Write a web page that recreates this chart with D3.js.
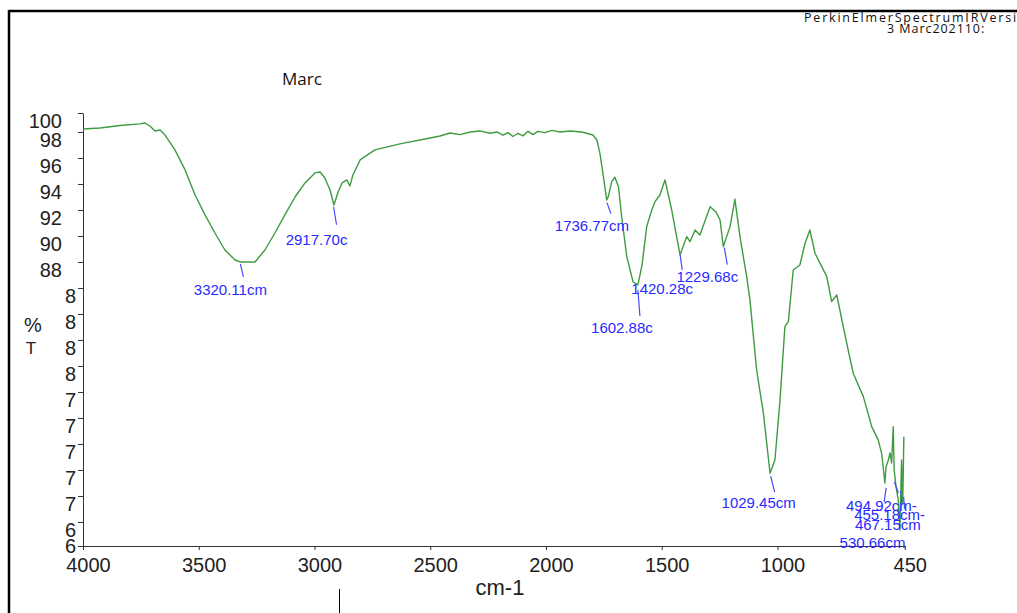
<!DOCTYPE html>
<meta charset="utf-8">
<style>
  html, body { margin: 0; padding: 0; background: #fff; }
  svg { display: block; font-family: "Liberation Sans", Arial, sans-serif; }
  .axis path, .axis line { stroke: #333; }
  .axis text { fill: #222; }
  .spectrum { fill: none; stroke: #3f9b3f; stroke-width: 1.4; stroke-linejoin: round; }
  .peaks text { fill: #2a2aff; font-size: 15px; }
  .peaks line { stroke: #4848ff; stroke-width: 1.2; }
  .frame { stroke: #000; stroke-width: 2.5; }
  .header { font-family: "Open Sans", sans-serif; fill: #111; }
</style>
<body>
<script src="https://cdnjs.cloudflare.com/ajax/libs/d3/7.8.5/d3.min.js"></script>
<script>
// spectrum (cm-1, %T)
var wavenumber = [4000, 3927, 3840, 3754, 3732, 3711, 3689, 3667, 3646, 3603,
  3559, 3516, 3473, 3430, 3387, 3343, 3322, 3257, 3214, 3171,
  3128, 3084, 3041, 2998, 2976, 2955, 2933, 2916, 2898, 2881,
  2860, 2847, 2834, 2803, 2739, 2631, 2501, 2458, 2415, 2372,
  2328, 2285, 2242, 2212, 2186, 2164, 2143, 2121, 2099, 2078,
  2056, 2035, 2004, 1974, 1940, 1896, 1845, 1797, 1780, 1767,
  1752, 1738, 1731, 1716, 1702, 1687, 1673, 1651, 1624, 1603,
  1585, 1565, 1543, 1529, 1508, 1486, 1457, 1421, 1392, 1378,
  1356, 1335, 1291, 1266, 1248, 1234, 1205, 1184, 1162, 1133,
  1119, 1090, 1061, 1032, 1011, 989, 968, 953, 932, 903,
  881, 860, 838, 787, 766, 744, 701, 673, 629, 593,
  565, 550, 536, 531, 521, 514, 507, 500, 496, 488,
  478, 471, 464, 459, 454];
var transmittance = [98.23, 98.31, 98.5, 98.62, 98.69, 98.46, 98.08, 98.15, 97.77, 96.62,
  95.08, 93.15, 91.62, 90.23, 88.92, 88.15, 88.0, 88.0, 88.92, 90.23,
  91.62, 93.0, 94.08, 94.85, 94.92, 94.46, 93.54, 92.38, 93.38, 94.08,
  94.31, 93.85, 94.69, 95.85, 96.62, 97.08, 97.54, 97.69, 97.92, 97.8,
  98.0, 98.08, 97.9, 98.0, 97.75, 97.95, 97.65, 97.9, 97.7, 98.05,
  97.8, 98.05, 97.95, 98.12, 98.0, 98.08, 98.0, 97.77, 97.38, 96.38,
  94.56, 92.77, 93.02, 94.18, 94.52, 93.79, 91.48, 88.41, 86.48, 86.23,
  87.77, 90.72, 92.0, 92.64, 93.15, 94.31, 92.0, 88.54, 89.95, 89.56,
  90.46, 90.08, 92.25, 91.85, 91.23, 89.18, 90.72, 92.82, 89.95, 86.87,
  85.08, 79.69, 76.38, 71.75, 72.77, 77.38, 83.02, 83.41, 87.38, 87.77,
  89.44, 90.46, 88.67, 86.87, 84.95, 85.46, 81.75, 79.44, 77.64, 75.33,
  74.31, 73.28, 71.0, 72.25, 72.77, 73.31, 72.54, 75.33, 72.0, 70.72,
  69.69, 67.38, 72.77, 69.46, 74.56];

var xTicks = [4000, 3500, 3000, 2500, 2000, 1500, 1000, 450];
var yTicks = [99.46, 98, 96, 94, 92, 90, 88, 86, 84, 82, 80, 78, 76, 74, 72, 70, 68, 66.15];
var yTickLabels = ["100", "98", "96", "94", "92", "90", "88", "8", "8", "8", "8",
  "7", "7", "7", "7", "7", "6", "6"];

var peakWn = [3320.11, 2917.70, 1736.77, 1602.88, 1420.28, 1229.68, 1029.45, 494.92, 455.18, 467.15, 530.66];
var peakT = [88.0, 92.4, 92.64, 86.23, 88.54, 89.18, 71.75, 71.23, 70.08, 70.54, 70.77];
var peakText = ["3320.11cm", "2917.70c", "1736.77cm", "1602.88c", "1420.28c", "1229.68c",
  "1029.45cm", "494.92cm-", "455.18cm-", "467.15cm", "530.66cm"];

// label placement: [gap, leader length, slant, text dx, text dy]
var peakLayout = [[2, 13, 3, -10, 33], [2, 18, 3, -17, 40], [1, 11, 4, -15, 29.5],
  [5, 26, 2, -16, 48], [0, 15, 2, -18, 39], [1, 17, 3, -17, 35], [3, 16, 4, -12, 35],
  [2, 11, 4, -13, 31.5], [2, 12, 1, -14, 25], [2, 14, 1, -13, 41], [2, 14, -2, -13.6, 62]];

var width = 1017, height = 613;

var svg = d3.select("body").append("svg")
  .attr("width", width)
  .attr("height", height);

var x = d3.scaleLinear().domain([4000, 450]).range([83, 904.8]);
var y = d3.scaleLinear().domain([66.15, 99.46]).range([546, 113]);

// page frame
svg.append("line").attr("class", "frame")
  .attr("x1", 9).attr("y1", 11).attr("x2", width).attr("y2", 11);
svg.append("line").attr("class", "frame")
  .attr("x1", 9).attr("y1", 10).attr("x2", 9).attr("y2", height);

svg.append("text").attr("class", "header")
  .attr("x", 804).attr("y", 22)
  .attr("font-size", 12.5)
  .attr("letter-spacing", 1.8)
  .text("PerkinElmerSpectrumIRVersion");
svg.append("text").attr("class", "header")
  .attr("x", 887).attr("y", 33)
  .attr("font-size", 12.5)
  .attr("letter-spacing", 0.95)
  .text("3 Marc202110:");

svg.append("text").attr("class", "header")
  .attr("x", 282).attr("y", 85)
  .attr("font-size", 17)
  .text("Marc");

// axes
var yAxis = svg.append("g").attr("class", "axis")
  .attr("transform", "translate(83,0)")
  .call(d3.axisLeft(y).tickValues(yTicks)
    .tickFormat(function(d, i) { return yTickLabels[i]; })
    .tickSize(5).tickSizeOuter(0));
yAxis.selectAll("text")
  .attr("font-family", "Liberation Sans, Arial, sans-serif")
  .attr("font-size", 20)
  .attr("x", function(d, i) { return yTickLabels[i].length > 1 ? -21 : -7; })
  .attr("dy", function(d, i) { return i === yTicks.length - 1 ? "0.3em" : "0.72em"; });

var xAxis = svg.append("g").attr("class", "axis")
  .attr("transform", "translate(0,546)")
  .call(d3.axisBottom(x).tickValues(xTicks).tickFormat(d3.format("d"))
    .tickSize(4).tickSizeOuter(0));
xAxis.selectAll("text")
  .attr("font-family", "Liberation Sans, Arial, sans-serif")
  .attr("font-size", 20)
  .attr("dx", 5)
  .attr("y", 26)
  .attr("dy", 0);

svg.append("text")
  .attr("x", 500).attr("y", 595)
  .attr("text-anchor", "middle")
  .attr("font-size", 22)
  .attr("fill", "#222")
  .text("cm-1");

svg.append("text")
  .attr("x", 33).attr("y", 332)
  .attr("text-anchor", "middle")
  .attr("font-size", 20)
  .attr("fill", "#222")
  .text("%");
svg.append("text")
  .attr("x", 31).attr("y", 354)
  .attr("text-anchor", "middle")
  .attr("font-size", 17)
  .attr("fill", "#222")
  .text("T");

// stray mark under the axis
svg.append("line")
  .attr("x1", 339.5).attr("y1", 589).attr("x2", 339.5).attr("y2", height)
  .attr("stroke", "#000");

// spectrum
var line = d3.line()
  .x(function(d, i) { return x(wavenumber[i]); })
  .y(function(d) { return y(d); });

svg.append("path")
  .datum(transmittance)
  .attr("class", "spectrum")
  .attr("d", line);

// peak labels
var peaks = svg.append("g").attr("class", "peaks")
  .selectAll("g")
  .data(peakWn)
  .enter().append("g");

peaks.append("line")
  .attr("x1", function(d) { return x(d); })
  .attr("y1", function(d, i) { return y(peakT[i]) + peakLayout[i][0]; })
  .attr("x2", function(d, i) { return x(d) + peakLayout[i][2]; })
  .attr("y2", function(d, i) { return y(peakT[i]) + peakLayout[i][0] + peakLayout[i][1]; });

peaks.append("text")
  .attr("text-anchor", "middle")
  .attr("x", function(d, i) { return x(d) + peakLayout[i][3]; })
  .attr("y", function(d, i) { return y(peakT[i]) + peakLayout[i][4]; })
  .text(function(d, i) { return peakText[i]; });
</script>
</body>
